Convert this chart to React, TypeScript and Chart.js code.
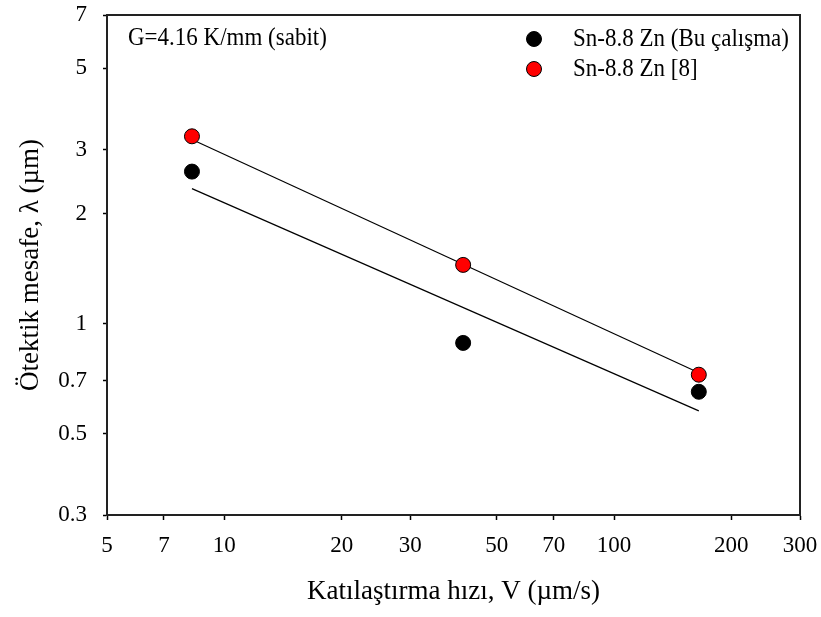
import React, { useEffect, useRef } from "react";
import { Chart, registerables } from "chart.js";

Chart.register(...registerables);

// ---- data ----
const blackV = [8.26, 41, 165];
const blackLambda = [2.61, 0.887, 0.652];
const redV = [8.26, 41, 165];
const redLambda = [3.26, 1.45, 0.726];
const blackFitV = [8.26, 165];
const blackFitLambda = [2.345, 0.578];
const redFitV = [8.26, 165];
const redFitLambda = [3.195, 0.735];
const xTicks = [5, 7, 10, 20, 30, 50, 70, 100, 200, 300];
const yTicks = [0.3, 0.5, 0.7, 1, 2, 3, 5, 7];
const seriesLabels = ["Sn-8.8 Zn (Bu çalışma)", "Sn-8.8 Zn [8]"];
const seriesColors = ["#000000", "#ff0000"];
const xTitle = "Katılaştırma hızı, V (µm/s)";
const yTitle = "Ötektik mesafe, λ (µm)";
const note = "G=4.16 K/mm (sabit)";

const FONT = "'Liberation Serif', 'Times New Roman', serif";

const pts = (xs: number[], ys: number[]) => xs.map((x, i) => ({ x, y: ys[i] }));

const stretchedText = (ctx: any, text: string, x: number, y: number, sy: number) => {
  ctx.save();
  ctx.translate(x, y);
  ctx.scale(1, sy);
  ctx.fillText(text, 0, 0);
  ctx.restore();
};

const decorPlugin = {
  id: "decor",
  afterDraw(chart: any) {
    const { ctx, chartArea } = chart;
    const { left, right, top, bottom } = chartArea;
    ctx.save();
    // frame
    ctx.strokeStyle = "#222";
    ctx.lineWidth = 2;
    ctx.strokeRect(left, top, right - left, bottom - top);
    // note
    ctx.fillStyle = "#000";
    ctx.font = `23px ${FONT}`;
    ctx.textBaseline = "middle";
    ctx.textAlign = "left";
    stretchedText(ctx, note, left + 21, top + 23, 1.12);
    // legend
    seriesLabels.forEach((lab, i) => {
      const y = top + 24 + i * 30;
      const mx = right - 266;
      ctx.beginPath();
      ctx.arc(mx, y, 7.5, 0, Math.PI * 2);
      ctx.fillStyle = seriesColors[i];
      ctx.fill();
      ctx.lineWidth = 1;
      ctx.strokeStyle = "#000";
      ctx.stroke();
      ctx.fillStyle = "#000";
      ctx.font = `23px ${FONT}`;
      ctx.textAlign = "left";
      ctx.textBaseline = "middle";
      stretchedText(ctx, lab, right - 227, y, 1.12);
    });
    // axis titles
    ctx.font = `27px ${FONT}`;
    ctx.textAlign = "center";
    ctx.textBaseline = "middle";
    ctx.fillText(xTitle, (left + right) / 2, bottom + 77);
    ctx.save();
    ctx.translate(31, (top + bottom) / 2);
    ctx.rotate(-Math.PI / 2);
    ctx.fillText(yTitle, 0, 0);
    ctx.restore();
    ctx.restore();
  },
};

export default function App() {
  const ref = useRef<HTMLCanvasElement>(null);
  useEffect(() => {
    let chart: any = null;
    let cancelled = false;
    const build = () => {
      if (cancelled || !ref.current) return;
      chart = new Chart(ref.current, {
        type: "scatter",
        data: {
          datasets: [
            {
              label: seriesLabels[0],
              data: pts(blackV, blackLambda),
              backgroundColor: seriesColors[0],
              borderColor: "#000",
              borderWidth: 1,
              pointRadius: 7.5,
              order: 0,
            },
            {
              label: seriesLabels[1],
              data: pts(redV, redLambda),
              backgroundColor: seriesColors[1],
              borderColor: "#000",
              borderWidth: 1,
              pointRadius: 7.5,
              order: 0,
            },
            {
              label: "fit1",
              data: pts(blackFitV, blackFitLambda),
              showLine: true,
              borderColor: "#000",
              borderWidth: 1.2,
              pointRadius: 0,
              order: 1,
            },
            {
              label: "fit2",
              data: pts(redFitV, redFitLambda),
              showLine: true,
              borderColor: "#000",
              borderWidth: 1.2,
              pointRadius: 0,
              order: 1,
            },
          ],
        },
        options: {
          responsive: false,
          animation: false,
          devicePixelRatio: 1,
          layout: { padding: { top: 15, right: 21, left: 0, bottom: 0 } },
          plugins: { legend: { display: false }, tooltip: { enabled: false } },
          scales: {
            x: {
              type: "logarithmic",
              min: 5,
              max: 300,
              afterBuildTicks: (s: any) => {
                s.ticks = xTicks.map((v) => ({ value: v }));
              },
              afterFit: (s: any) => {
                s.height = 102;
                s.paddingLeft = 0;
                s.paddingRight = 0;
              },
              ticks: {
                autoSkip: false,
                maxRotation: 0,
                color: "#000",
                padding: 12,
                font: { family: FONT, size: 23 },
                callback: (v: any) => String(v),
              },
              grid: {
                drawOnChartArea: false,
                drawTicks: true,
                tickLength: 5,
                tickColor: "#000",
                tickWidth: 1.5,
              },
              border: { display: true, color: "#222", width: 2 },
            },
            y: {
              type: "logarithmic",
              min: 0.3,
              max: 7,
              afterBuildTicks: (s: any) => {
                s.ticks = yTicks.map((v) => ({ value: v }));
              },
              afterFit: (s: any) => {
                s.width = 107;
                s.paddingTop = 0;
                s.paddingBottom = 0;
              },
              ticks: {
                autoSkip: false,
                color: "#000",
                padding: 16,
                font: { family: FONT, size: 23 },
                callback: (v: any) => String(v),
              },
              grid: {
                drawOnChartArea: false,
                drawTicks: true,
                tickLength: 4,
                tickColor: "#000",
                tickWidth: 1.5,
              },
              border: { display: true, color: "#222", width: 2 },
            },
          },
        },
        plugins: [decorPlugin],
      } as any);
    };
    const fonts: any = (document as any).fonts;
    if (fonts && fonts.load) {
      Promise.all([
        fonts.load("23px 'Liberation Serif'"),
        fonts.load("27px 'Liberation Serif'"),
      ])
        .catch(() => null)
        .then(() => build());
    } else {
      build();
    }
    return () => {
      cancelled = true;
      if (chart) chart.destroy();
    };
  }, []);
  return (
    <div style={{ position: "fixed", left: 0, top: 0, width: 821, height: 617, background: "#fff" }}>
      <canvas ref={ref} width={821} height={617} style={{ display: "block" }} />
    </div>
  );
}
